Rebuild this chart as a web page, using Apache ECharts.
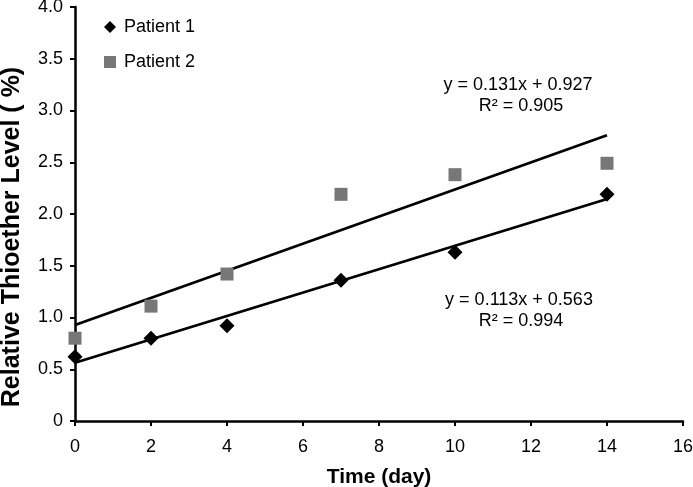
<!DOCTYPE html>
<html><head><meta charset="utf-8">
<script src="https://cdn.jsdelivr.net/npm/echarts@6/dist/echarts.min.js"></script>
<style>html,body{margin:0;padding:0;background:#fff}#c{width:693px;height:487px}</style>
</head><body><div id="c"></div>
<script>
var days = [0, 2, 4, 7, 10, 14];
var patient1 = [0.62, 0.80, 0.92, 1.36, 1.63, 2.19];
var patient2 = [0.80, 1.11, 1.42, 2.19, 2.38, 2.49];
var fit1 = {slope: 0.113, intercept: 0.563, r2: '0.994', xFrom: 0, xTo: 14};
var fit2 = {slope: 0.131, intercept: 0.927, r2: '0.905', xFrom: 0, xTo: 14};
var yTicks = ['0', '0.5', '1.0', '1.5', '2.0', '2.5', '3.0', '3.5', '4.0'];

function pairs(xs, ys){ return xs.map(function(x,i){return [x, ys[i]];}); }
function fitLine(f){ return [[f.xFrom, f.intercept + f.slope*f.xFrom],[f.xTo, f.intercept + f.slope*f.xTo]]; }

var font = 'Liberation Sans, Arial, sans-serif';
var chart = echarts.init(document.getElementById('c'));
chart.setOption({
  animation: false,
  grid: {left: 75, right: 10, top: 7, bottom: 66, containLabel: false, outerBoundsMode: 'none'},
  legend: {
    left: 99, top: 13, orient: 'vertical', itemGap: 17, itemWidth: 12, itemHeight: 12,
    textStyle: {fontFamily: font, fontSize: 18, color: '#000', padding: [0, 0, 0, 3]},
    data: [{name: 'Patient 1', icon: 'diamond'}, {name: 'Patient 2', icon: 'rect'}]
  },
  xAxis: {
    type: 'value', min: 0, max: 16, interval: 2,
    name: 'Time (day)', nameLocation: 'middle', nameGap: 46,
    nameTextStyle: {fontFamily: font, fontSize: 21, fontWeight: 'bold', color: '#000'},
    axisLine: {lineStyle: {color: '#000', width: 2.5}},
    axisTick: {length: 5, lineStyle: {color: '#000', width: 2}},
    axisLabel: {fontFamily: font, fontSize: 18, color: '#000', margin: 17},
    splitLine: {show: false}
  },
  yAxis: {
    type: 'value', min: 0, max: 4, interval: 0.5,
    axisLine: {show: true, lineStyle: {color: '#000', width: 2.5}},
    axisTick: {show: true, length: 5, lineStyle: {color: '#000', width: 2}},
    axisLabel: {fontFamily: font, fontSize: 18, color: '#000', margin: 12,
      formatter: function(v){ return yTicks[Math.round(v/0.5)]; }},
    splitLine: {show: false}
  },
  series: [
    {name: 'Patient 1 fit', type: 'line', data: fitLine(fit1), symbol: 'none',
     lineStyle: {color: '#000', width: 2.8}, z: 2},
    {name: 'Patient 2 fit', type: 'line', data: fitLine(fit2), symbol: 'none',
     lineStyle: {color: '#000', width: 2.8}, z: 2},
    {name: 'Patient 1', type: 'scatter', data: pairs(days, patient1), symbol: 'diamond',
     symbolSize: 15, itemStyle: {color: '#000', opacity: 1}, z: 3},
    {name: 'Patient 2', type: 'scatter', data: pairs(days, patient2), symbol: 'rect',
     symbolSize: 13, itemStyle: {color: '#777', opacity: 1}, z: 3}
  ],
  graphic: [
    {type: 'text', x: 12, y: 237, rotation: Math.PI/2,
     style: {text: 'Relative Thioether Level ( %)', font: 'bold 25px ' + font, fill: '#000', align: 'center', verticalAlign: 'middle'}},
    {type: 'text', x: 518, y: 85, style: {text: 'y = 0.131x + 0.927', font: '18px ' + font, fill: '#000', align: 'center', verticalAlign: 'middle'}},
    {type: 'text', x: 521, y: 106, style: {text: 'R² = ' + fit2.r2, font: '18px ' + font, fill: '#000', align: 'center', verticalAlign: 'middle'}},
    {type: 'text', x: 519, y: 300, style: {text: 'y = 0.113x + 0.563', font: '18px ' + font, fill: '#000', align: 'center', verticalAlign: 'middle'}},
    {type: 'text', x: 521, y: 321, style: {text: 'R² = ' + fit1.r2, font: '18px ' + font, fill: '#000', align: 'center', verticalAlign: 'middle'}}
  ]
});
</script></body></html>
